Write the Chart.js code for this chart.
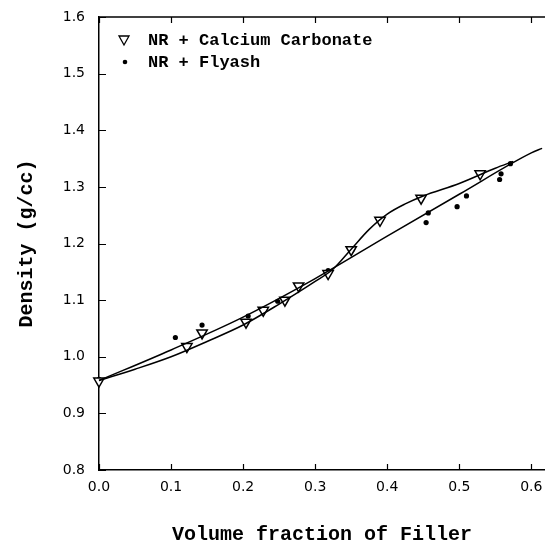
<!DOCTYPE html>
<html><head><meta charset="utf-8">
<script src="https://cdn.jsdelivr.net/npm/chart.js@4"></script>
<style>html,body{margin:0;padding:0;background:#fff}canvas{display:block}</style>
</head><body>
<canvas id="c" width="545" height="548"></canvas>
<script>
// Axis ticks
const xTickValues = [0.0, 0.1, 0.2, 0.3, 0.4, 0.5, 0.6];
const yTickValues = [0.8, 0.9, 1.0, 1.1, 1.2, 1.3, 1.4, 1.5, 1.6];

// NR + Calcium Carbonate (measured)
const caco3X = [0.000, 0.122, 0.143, 0.204, 0.228, 0.258, 0.277, 0.318, 0.350, 0.390, 0.447, 0.529];
const caco3Y = [0.957, 1.018, 1.042, 1.061, 1.082, 1.100, 1.125, 1.147, 1.189, 1.241, 1.280, 1.323];

// NR + Flyash (measured)
const flyashX = [0.000, 0.106, 0.143, 0.207, 0.248, 0.318, 0.352, 0.454, 0.457, 0.497, 0.510, 0.556, 0.558, 0.571];
const flyashY = [0.960, 1.034, 1.056, 1.072, 1.098, 1.152, 1.190, 1.237, 1.254, 1.265, 1.284, 1.313, 1.323, 1.341];

// Fitted curves
const caco3CurveX = [0.000, 0.050, 0.100, 0.150, 0.200, 0.250, 0.300, 0.325, 0.350, 0.375, 0.400, 0.425, 0.450, 0.500, 0.550, 0.575];
const caco3CurveY = [0.958, 0.978, 1.000, 1.027, 1.056, 1.093, 1.133, 1.155, 1.190, 1.225, 1.252, 1.270, 1.284, 1.306, 1.333, 1.345];
const flyashCurveX = [0.000, 0.100, 0.200, 0.300, 0.400, 0.500, 0.600, 0.615];
const flyashCurveY = [0.958, 1.012, 1.070, 1.138, 1.213, 1.287, 1.360, 1.368];

const seriesLabels = ['NR + Calcium Carbonate', 'NR + Flyash'];

const pts = (xs, ys) => xs.map((v, i) => ({x: v, y: ys[i]}));

const frame = {
  id: 'frame',
  afterDraw(chart) {
    const {ctx, chartArea: a, scales: {x, y}} = chart;
    ctx.save();
    ctx.strokeStyle = '#000';
    ctx.lineWidth = 1.5;
    ctx.beginPath();
    ctx.moveTo(a.left, a.top); ctx.lineTo(a.right, a.top);
    ctx.stroke();
    ctx.lineWidth = 1.2;
    ctx.beginPath();
    x.ticks.forEach(t => {
      const p = Math.round(x.getPixelForValue(t.value)) + 0.5;
      ctx.moveTo(p, a.bottom); ctx.lineTo(p, a.bottom - 6);
      ctx.moveTo(p, a.top); ctx.lineTo(p, a.top + 6);
    });
    y.ticks.forEach(t => {
      const p = Math.round(y.getPixelForValue(t.value)) + 0.5;
      ctx.moveTo(a.left, p); ctx.lineTo(a.left + 7, p);
    });
    ctx.stroke();
    // legend
    const ds = chart.data.datasets;
    ctx.font = 'bold 17px "Liberation Mono"';
    ctx.fillStyle = '#000';
    ctx.textBaseline = 'middle';
    const lx = a.left + 25, tx = a.left + 49;
    const ly1 = a.top + 23, ly2 = a.top + 45;
    ctx.lineWidth = 1.3;
    ctx.beginPath();
    ctx.moveTo(lx - 5, ly1 - 4); ctx.lineTo(lx + 5, ly1 - 4); ctx.lineTo(lx, ly1 + 5); ctx.closePath();
    ctx.stroke();
    ctx.fillText(ds[2].label, tx, ly1 + 1);
    ctx.beginPath(); ctx.arc(lx + 1, ly2, 2.3, 0, Math.PI * 2); ctx.fill();
    ctx.fillText(ds[3].label, tx, ly2 + 1);
    ctx.restore();
  }
};

const noPad = s => { s.paddingTop = 0; s.paddingBottom = 0; s.paddingLeft = 0; s.paddingRight = 0; };

new Chart(document.getElementById('c'), {
  type: 'scatter',
  data: {
    datasets: [
      {label: 'fit CaCO3', data: pts(caco3CurveX, caco3CurveY), showLine: true, pointRadius: 0,
       borderColor: '#000', borderWidth: 1.5, cubicInterpolationMode: 'monotone', clip: false},
      {label: 'fit flyash', data: pts(flyashCurveX, flyashCurveY), showLine: true, pointRadius: 0,
       borderColor: '#000', borderWidth: 1.5, cubicInterpolationMode: 'monotone', clip: false},
      {label: seriesLabels[0], data: pts(caco3X, caco3Y), pointStyle: 'triangle', rotation: 180,
       pointRadius: 6, borderColor: '#000', backgroundColor: '#fff', pointBorderWidth: 1.5, clip: false},
      {label: seriesLabels[1], data: pts(flyashX, flyashY), pointStyle: 'circle',
       pointRadius: 2.6, borderColor: '#000', backgroundColor: '#000', pointBorderWidth: 0, clip: false}
    ]
  },
  options: {
    responsive: false,
    animation: false,
    devicePixelRatio: 1,
    layout: {autoPadding: false, padding: {top: 17, right: 0, left: 0, bottom: 0}},
    plugins: {legend: {display: false}, tooltip: {enabled: false}},
    scales: {
      x: {
        type: 'linear', min: 0, max: 0.619,
        afterBuildTicks: s => { s.ticks = xTickValues.map(v => ({value: v})); },
        afterFit: s => { s.height = 78; noPad(s); },
        ticks: {color: '#000', padding: 9, maxRotation: 0, autoSkip: false,
                font: {family: 'DejaVu Sans', size: 14}, callback: v => v.toFixed(1)},
        grid: {display: false, drawTicks: false},
        border: {display: true, color: '#000', width: 1.5},
        title: {display: true, text: 'Volume fraction of Filler', color: '#000',
                font: {family: 'Liberation Mono', size: 20, weight: 'bold'}, padding: {top: 0, bottom: 1}}
      },
      y: {
        type: 'linear', min: 0.8, max: 1.6,
        afterBuildTicks: s => { s.ticks = yTickValues.map(v => ({value: v})); },
        afterFit: s => { s.width = 99; noPad(s); },
        ticks: {color: '#000', padding: 14,
                font: {family: 'DejaVu Sans', size: 14}, callback: v => v.toFixed(1)},
        grid: {display: false, drawTicks: false},
        border: {display: true, color: '#000', width: 1.5},
        title: {display: true, text: 'Density (g/cc)', color: '#000',
                font: {family: 'Liberation Mono', size: 20, weight: 'bold'}, padding: {top: 15, bottom: 0}}
      }
    }
  },
  plugins: [frame]
});
</script>
</body></html>
